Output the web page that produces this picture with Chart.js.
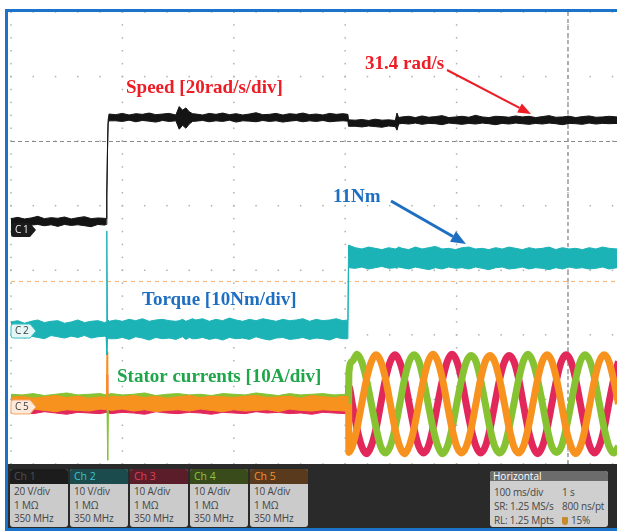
<!DOCTYPE html>
<html>
<head>
<meta charset="utf-8">
<script src="https://cdn.jsdelivr.net/npm/chart.js@4.4.1/dist/chart.umd.min.js"></script>
<style>
html,body{margin:0;padding:0;background:#fff;}
#scope{position:relative;width:617px;height:531px;overflow:hidden;}
#scope canvas{position:absolute;left:0;top:0;}
#panel{position:absolute;left:8px;top:464px;width:609px;height:64px;background:#2a2a2a;font-family:"Open Sans",sans-serif;}
.box{position:absolute;top:5px;width:58px;height:58px;border-radius:3px;overflow:hidden;background:#cbcbcb;}
.hd{height:15px;line-height:15px;padding-left:4px;font-size:10.5px;}
.bd{padding:1px 0 0 4px;font-size:10px;line-height:13.5px;color:#464646;letter-spacing:-0.2px;white-space:nowrap;}
.hbox{position:absolute;left:482px;top:7px;width:118px;height:56px;border-radius:3px;overflow:hidden;background:#cfcfcf;}
.hbox .hh{height:10px;line-height:10px;padding-left:3px;font-size:10px;background:#6c6c6c;color:#fff;}
.hbox .row{position:absolute;font-size:10px;line-height:14px;color:#464646;white-space:nowrap;letter-spacing:-0.2px;}
.badge{display:inline-block;width:6px;height:8px;background:#c98a2e;border-radius:1px 1px 3px 3px;margin-right:3px;vertical-align:-1px;}
</style>
</head>
<body>
<div id="scope">
  <canvas id="scopeChart" width="617" height="531"></canvas>
  <div id="panel">
    <div class="box" style="left:2px"><div class="hd" style="background:#1c1c1c;color:#505050">Ch 1</div><div class="bd">20 V/div<br>1 MΩ<br>350 MHz</div></div>
    <div class="box" style="left:62px"><div class="hd" style="background:#1c4b4d;color:#3fc4c6">Ch 2</div><div class="bd">10 V/div<br>1 MΩ<br>350 MHz</div></div>
    <div class="box" style="left:122px"><div class="hd" style="background:#5a1d29;color:#e0405c">Ch 3</div><div class="bd">10 A/div<br>1 MΩ<br>350 MHz</div></div>
    <div class="box" style="left:182px"><div class="hd" style="background:#3a4b1b;color:#8cc540">Ch 4</div><div class="bd">10 A/div<br>1 MΩ<br>350 MHz</div></div>
    <div class="box" style="left:242px"><div class="hd" style="background:#5a3a1c;color:#f39330">Ch 5</div><div class="bd">10 A/div<br>1 MΩ<br>350 MHz</div></div>
    <div class="hbox">
      <div class="hh">Horizontal</div>
      <div class="row" style="left:4px;top:14px">100 ms/div</div>
      <div class="row" style="left:72px;top:14px">1 s</div>
      <div class="row" style="left:4px;top:28px">SR: 1.25 MS/s</div>
      <div class="row" style="left:72px;top:28px">800 ns/pt</div>
      <div class="row" style="left:4px;top:42px">RL: 1.25 Mpts</div>
      <div class="row" style="left:72px;top:42px"><span class="badge"></span>15%</div>
    </div>
  </div>
</div>
<script>
// Shared time base (ms) for the speed and torque traces
const timeMs = [0,6,12,18,24,30,36,42,48,54,60,66,72,78,84,
  85.4,86,86.6,87.2,88,
  94,100,106,112,118,124,130,136,142,148,
  151,154,157,160,163,
  166,172,178,184,190,196,202,208,214,220,226,232,238,244,250,256,262,268,274,280,286,292,298,
  302.4,303,
  309,315,321,327,333,339,345,
  346.5,348,
  351,357,363,369,375,381,387,393,399,405,411,417,423,429,435,441,447,453,459,465,471,477,483,489,495,501,507,513,519,525,531,537,544];

// Speed trace envelope (rad/s)
const speedUpper = [0.9,1.3,0.8,1.1,1.6,0.9,1.2,1.0,1.4,0.8,1.2,1.5,0.9,1.1,1.0,
  0.9,8.5,22.5,31.5,33.3,
  33.1,33.5,33.0,33.4,33.2,33.6,33.1,33.3,33.5,33.0,
  35.6,34.5,35.2,34.0,33.4,
  33.3,33.0,33.5,33.2,33.6,33.1,33.4,33.0,33.3,33.7,33.1,33.2,33.5,33.0,33.4,33.2,33.6,33.1,33.3,33.0,33.5,33.2,33.4,
  33.2,31.5,
  31.4,31.6,31.3,31.7,31.4,31.5,31.3,
  33.6,32.2,
  32.4,32.6,32.2,32.7,32.3,32.5,32.8,32.2,32.4,32.6,32.3,32.9,32.4,32.2,32.6,32.5,32.3,32.7,32.4,32.6,32.2,32.5,32.8,32.3,32.4,32.6,32.2,32.5,32.7,32.3,32.4,32.6,32.4];
const speedLower = [-1.0,-0.8,-1.4,-1.1,-0.9,-1.3,-1.0,-1.5,-0.9,-1.2,-1.0,-1.3,-1.6,-0.9,-1.1,
  -0.9,7.5,21.5,30.5,31.2,
  31.2,31.0,31.4,30.9,31.3,31.1,30.8,31.3,31.0,31.2,
  28.6,29.8,28.9,30.2,31.0,
  31.1,31.3,30.9,31.2,31.0,31.4,30.8,31.2,31.1,30.9,31.3,31.0,31.2,30.8,31.1,31.3,30.9,31.2,31.0,31.3,30.9,31.1,31.2,
  31.1,29.5,
  29.5,29.3,29.6,29.4,29.2,29.6,29.4,
  28.3,30.2,
  30.4,30.2,30.5,30.1,30.4,30.3,30.0,30.5,30.3,30.1,30.4,30.2,30.5,30.3,30.0,30.4,30.2,30.5,30.3,30.1,30.4,30.2,30.5,30.3,30.0,30.4,30.3,30.1,30.5,30.2,30.4,30.3,30.4];

// Torque trace envelope (Nm)
const torqueUpper = [1.1,1.3,0.9,1.2,1.4,1.0,1.2,1.3,0.9,1.1,1.4,1.0,1.2,1.3,1.0,
  1.1,15.2,1.3,1.4,1.2,
  1.4,1.2,1.5,1.3,1.6,1.2,1.4,1.5,1.3,1.2,
  1.3,1.5,1.2,1.4,1.6,
  1.4,1.6,1.2,1.5,1.3,1.7,1.4,1.2,1.5,1.3,1.6,1.4,1.2,1.5,1.3,1.4,1.6,1.2,1.5,1.3,1.4,1.6,1.3,
  1.4,13.0,
  12.6,12.4,12.7,12.5,12.3,12.6,12.4,
  12.5,12.7,
  12.5,12.3,12.7,12.4,12.6,12.8,12.4,12.5,12.3,12.6,12.7,12.4,12.5,12.3,12.6,12.4,12.7,12.5,12.3,12.6,12.4,12.5,12.7,12.3,12.6,12.4,12.5,12.3,12.6,12.4,12.7,12.5,12.4];
const torqueLower = [-1.2,-1.0,-1.4,-1.1,-1.3,-1.5,-1.0,-1.2,-1.4,-1.1,-1.3,-1.0,-1.4,-1.2,-1.1,
  -1.2,-4.0,-1.3,-1.4,-1.5,
  -1.5,-1.3,-1.6,-1.2,-1.4,-1.7,-1.3,-1.5,-1.4,-1.6,
  -1.4,-1.2,-1.6,-1.3,-1.5,
  -1.5,-1.3,-1.6,-1.4,-1.7,-1.3,-1.5,-1.4,-1.6,-1.2,-1.5,-1.7,-1.4,-1.3,-1.6,-1.5,-1.3,-1.6,-1.4,-1.5,-1.7,-1.3,-1.5,
  -1.5,9.5,
  9.4,9.6,9.3,9.5,9.7,9.4,9.5,
  9.4,9.6,
  9.5,9.3,9.6,9.4,9.2,9.5,9.3,9.6,9.4,9.5,9.3,9.6,9.4,9.2,9.5,9.6,9.3,9.4,9.6,9.3,9.5,9.4,9.2,9.5,9.3,9.6,9.4,9.5,9.3,9.4,9.6,9.3,9.5];

// Phase currents before the load step (ms, A)
const preTimes = [0,10,20,30,40,50,60,70,80,
  85.6,86.2,86.8,87.4,
  90,100,110,120,130,140,150,160,170,180,190,200,210,220,230,240,250,260,270,280,290,300,
  303.2];
const orangePreHi = [1.0,1.2,0.9,1.1,1.3,1.0,1.2,0.9,1.1, 1.0,8.1,1.1,1.0,
  1.2,1.1,1.3,1.0,1.2,0.9,1.1,1.3,1.0,1.2,1.1,1.0,1.2,1.3,1.0,1.1,1.2,0.9,1.3,1.1,1.0,1.2, 1.1];
const orangePreLo = [-0.9,-1.1,-0.8,-1.0,-1.2,-0.9,-1.0,-1.1,-0.8, -0.9,-0.8,-1.0,-0.9,
  -1.0,-0.8,-1.1,-0.9,-1.2,-1.0,-0.9,-1.1,-0.8,-1.0,-1.2,-0.9,-1.1,-1.0,-0.9,-1.2,-0.8,-1.0,-1.1,-0.9,-1.0,-1.1, -1.0];
const greenPreHi = [1.5,1.4,1.6,1.3,1.5,1.7,1.4,1.5,1.6, 1.4,1.5,1.3,1.5,
  1.6,1.4,1.5,1.7,1.3,1.5,1.6,1.4,1.5,1.3,1.6,1.5,1.4,1.7,1.5,1.3,1.6,1.4,1.5,1.6,1.4,1.5, 1.5];
const greenPreLo = [-0.3,-0.2,-0.4,-0.3,-0.2,-0.3,-0.4,-0.2,-0.3, -0.3,-0.3,-8.7,-0.3,
  -0.2,-0.3,-0.4,-0.2,-0.3,-0.3,-0.2,-0.4,-0.3,-0.2,-0.3,-0.4,-0.3,-0.2,-0.3,-0.3,-0.4,-0.2,-0.3,-0.3,-0.2,-0.3, -0.3];
const redPreHi = [0.3,0.2,0.3,0.4,0.2,0.3,0.3,0.2,0.4, 0.3,4.5,0.3,0.2,
  0.3,0.2,0.4,0.3,0.3,0.2,0.3,0.4,0.2,0.3,0.3,0.2,0.4,0.3,0.2,0.3,0.3,0.4,0.2,0.3,0.3,0.2, 0.3];
const redPreLo = [-1.4,-1.3,-1.5,-1.2,-1.4,-1.6,-1.3,-1.4,-1.5, -1.3,-1.4,-1.3,-1.4,
  -1.5,-1.3,-1.4,-1.6,-1.2,-1.4,-1.5,-1.3,-1.4,-1.6,-1.3,-1.4,-1.5,-1.2,-1.4,-1.3,-1.5,-1.4,-1.6,-1.3,-1.4,-1.5, -1.4];

// Phase currents after the load step (ms, A)
const currentTimes = [303.1,303.3,306.3,310.6,314.9,319.1,323.4,327.7,331.9,336.2,340.5,344.7,349.0,353.3,357.5,361.8,366.1,370.3,374.6,378.9,383.1,387.4,391.7,395.9,400.2,404.5,408.7,413.0,417.3,421.5,425.8,430.1,434.3,438.6,442.9,447.1,451.4,455.7,459.9,464.2,468.5,472.7,477.0,481.3,485.5,489.8,494.1,498.3,502.6,506.9,511.1,515.4,519.7,523.9,528.2,532.5,536.7,541.0,545.3];
const phaseGreen = [0,4.8,
  6.6,7.7,6.5,3.8,0.1,-3.7,-6.6,-7.6,-6.5,-3.8,0.0,3.9,
  6.6,7.6,6.6,3.7,-0.1,-3.8,-6.5,-7.7,-6.6,-3.8,0.1,3.8,
  6.5,7.5,6.6,3.8,0.0,-3.9,-6.6,-7.6,-6.6,-3.7,0.0,3.8,
  6.6,7.7,6.5,3.8,0.1,-3.8,-6.6,-7.5,-6.6,-3.8,-0.1,3.8,
  6.6,7.6,6.6,3.9,0.0,-3.8,-6.5,-7.6,-6.6];
const phaseOrange = [0,-7.5,
  -6.6,-3.8,0.1,3.8,6.5,7.6,6.6,3.9,0.0,-3.8,-6.6,-7.7,
  -6.5,-3.8,0.0,3.7,6.6,7.7,6.6,3.8,-0.1,-3.8,-6.6,-7.6,
  -6.6,-3.9,0.0,3.8,6.6,7.5,6.5,3.8,0.1,-3.7,-6.6,-7.6,
  -6.6,-3.8,0.0,3.8,6.6,7.6,6.6,3.8,0.0,-3.9,-6.5,-7.7,
  -6.6,-3.8,0.1,3.8,6.6,7.6,6.6,3.7,0.0];
const phaseRed = [0,2.7,
  0.1,-3.8,-6.6,-7.7,-6.5,-3.8,0.0,3.9,6.6,7.6,6.5,3.8,
  0.0,-3.8,-6.6,-7.6,-6.6,-3.7,0.1,3.8,6.6,7.7,6.6,3.8,
  -0.1,-3.8,-6.5,-7.6,-6.6,-3.8,0.0,3.8,6.5,7.5,6.6,3.9,
  0.0,-3.9,-6.6,-7.7,-6.6,-3.8,0.0,3.8,6.6,7.6,6.6,3.8,
  0.0,-3.8,-6.6,-7.6,-6.5,-3.8,0.1,3.8,6.6];

const COLORS = {speed:'#141414', torque:'#1cb3b6', red:'#e2275a', green:'#86c232', orange:'#f7921f'};

const pts = (xs, ys) => xs.map((x, i) => ({x, y: ys[i]}));

function band(label, xs, hi, lo, color, yAxisID, order) {
  return [
    {label: label + ' max', data: pts(xs, hi), yAxisID, order, borderColor: color, backgroundColor: color,
     borderWidth: 1, pointRadius: 0, tension: 0, fill: '+1'},
    {label: label + ' min', data: pts(xs, lo), yAxisID, order, borderColor: color, backgroundColor: color,
     borderWidth: 1, pointRadius: 0, tension: 0, fill: false}
  ];
}
function wave(label, ys, color, order) {
  return {label, data: pts(currentTimes, ys), yAxisID: 'yCurrent', order, borderColor: color,
    borderWidth: 7, pointRadius: 0, cubicInterpolationMode: 'monotone', fill: false, borderJoinStyle: 'round'};
}

const datasets = [
  ...band('Speed', timeMs, speedUpper, speedLower, COLORS.speed, 'ySpeed', 1),
  ...band('Torque', timeMs, torqueUpper, torqueLower, COLORS.torque, 'yTorque', 2),
  wave('Ch5 current', phaseOrange, COLORS.orange, 3),
  ...band('Ch5 current idle', preTimes, orangePreHi, orangePreLo, COLORS.orange, 'yCurrent', 3),
  wave('Ch4 current', phaseGreen, COLORS.green, 4),
  ...band('Ch4 current idle', preTimes, greenPreHi, greenPreLo, COLORS.green, 'yCurrent', 4),
  wave('Ch3 current', phaseRed, COLORS.red, 5),
  ...band('Ch3 current idle', preTimes, redPreHi, redPreLo, COLORS.red, 'yCurrent', 5)
];

// Dotted graticule: 100 ms per column, 7 vertical divisions, 5 minor dots per division
const graticule = {
  id: 'graticule',
  beforeDraw(chart) {
    const ctx = chart.ctx;
    ctx.save();
    ctx.fillStyle = '#ffffff';
    ctx.fillRect(0, 0, chart.width, chart.height);
    ctx.restore();
  },
  beforeDatasetsDraw(chart) {
    const {ctx, scales: {x, yDiv}} = chart;
    ctx.save();
    ctx.fillStyle = '#b0b0b0';
    for (let c = 0; c <= 5; c++) {
      const px = x.getPixelForValue(c * 100);
      for (let m = 0; m <= 35; m++) {
        const py = yDiv.getPixelForValue(m / 5);
        ctx.fillRect(px - 0.75, py - 0.75, 1.5, 1.5);
      }
    }
    for (let r = 0; r <= 7; r++) {
      const py = yDiv.getPixelForValue(r);
      for (let m = 0; m <= 28; m++) {
        const px = x.getPixelForValue(m * 20);
        ctx.fillRect(px - 0.75, py - 0.75, 1.5, 1.5);
      }
    }
    // cursors and trigger level
    ctx.lineWidth = 1;
    ctx.strokeStyle = '#8a8a8a';
    ctx.setLineDash([4, 3]);
    let py = Math.round(yDiv.getPixelForValue(5)) + 0.5;
    ctx.beginPath(); ctx.moveTo(chart.chartArea.left, py); ctx.lineTo(chart.chartArea.right, py); ctx.stroke();
    ctx.lineWidth = 1.5;
    ctx.strokeStyle = '#9a9a9a';
    const vx = x.getPixelForValue(500);
    ctx.beginPath(); ctx.moveTo(vx, chart.chartArea.top); ctx.lineTo(vx, chart.chartArea.bottom); ctx.stroke();
    ctx.lineWidth = 1.2;
    ctx.strokeStyle = '#f8b878';
    ctx.setLineDash([4, 4]);
    py = Math.round(yDiv.getPixelForValue(2.84)) + 0.5;
    ctx.beginPath(); ctx.moveTo(chart.chartArea.left, py); ctx.lineTo(chart.chartArea.right, py); ctx.stroke();
    ctx.restore();
  }
};

function arrow(ctx, x1, y1, x2, y2, color, w, len, half) {
  const a = Math.atan2(y2 - y1, x2 - x1);
  const bx = x2 - len * Math.cos(a), by = y2 - len * Math.sin(a);
  ctx.strokeStyle = color; ctx.fillStyle = color; ctx.lineWidth = w;
  ctx.beginPath(); ctx.moveTo(x1, y1); ctx.lineTo(bx, by); ctx.stroke();
  ctx.beginPath();
  ctx.moveTo(x2, y2);
  ctx.lineTo(bx + half * Math.sin(a), by - half * Math.cos(a));
  ctx.lineTo(bx - half * Math.sin(a), by + half * Math.cos(a));
  ctx.closePath(); ctx.fill();
}

function tag(ctx, x, yc, fill, stroke, ch, num, color) {
  const h = 14, w = 19, tip = 6, r = 2.5;
  const t = yc - h / 2, b = yc + h / 2;
  ctx.beginPath();
  ctx.moveTo(x + r, t);
  ctx.lineTo(x + w, t);
  ctx.lineTo(x + w + tip, yc);
  ctx.lineTo(x + w, b);
  ctx.lineTo(x + r, b);
  ctx.quadraticCurveTo(x, b, x, b - r);
  ctx.lineTo(x, t + r);
  ctx.quadraticCurveTo(x, t, x + r, t);
  ctx.closePath();
  ctx.fillStyle = fill; ctx.fill();
  if (stroke) { ctx.strokeStyle = stroke; ctx.lineWidth = 1; ctx.stroke(); }
  ctx.fillStyle = color;
  ctx.font = '10px "Open Sans", sans-serif';
  ctx.textBaseline = 'middle';
  ctx.fillText(ch, x + 4, yc + 0.5);
  ctx.fillText(num, x + 12, yc + 0.5);
}

const annotations = {
  id: 'annotations',
  afterDatasetsDraw(chart) {
    const {ctx, scales} = chart;
    ctx.save();
    // channel ground markers
    tag(ctx, 11, scales.ySpeed.getPixelForValue(0) + 8.5, '#1b1b1b', null, 'C', '1', '#f0f0f0');
    tag(ctx, 11, scales.yTorque.getPixelForValue(0) + 2, '#e4f6f6', '#3cc0c2', 'C', '2', '#404040');
    tag(ctx, 11, scales.yCurrent.getPixelForValue(0) + 3, '#fdeadb', '#f6a463', 'C', '5', '#404040');

    ctx.font = 'bold 19px "Liberation Serif", "Times New Roman", serif';
    ctx.textBaseline = 'alphabetic';
    ctx.fillStyle = '#ee1c24';
    ctx.fillText('Speed [20rad/s/div]', 126, 93);
    ctx.fillText('31.4 rad/s', 365, 69);
    ctx.fillStyle = '#1e6fc1';
    ctx.fillText('11Nm', 333, 202);
    ctx.fillText('Torque [10Nm/div]', 142, 305);
    ctx.fillStyle = '#1fa64a';
    ctx.fillText('Stator currents [10A/div]', 117, 382);

    arrow(ctx, 447, 70, 531, 114, '#ee1c24', 2, 13, 5);
    arrow(ctx, 391, 201, 466, 244, '#1e6fc1', 3, 15, 6);
    ctx.restore();
  },
  afterDraw(chart) {
    const ctx = chart.ctx;
    ctx.save();
    ctx.fillStyle = '#1b74c9';
    ctx.fillRect(5, 9, chart.width - 5, 3);
    ctx.fillRect(5, 9, 3, chart.height - 9);
    ctx.fillRect(5, chart.height - 3, chart.width - 5, 3);
    ctx.restore();
  }
};

new Chart(document.getElementById('scopeChart'), {
  type: 'line',
  data: {datasets},
  options: {
    responsive: false,
    animation: false,
    devicePixelRatio: 1,
    layout: {padding: {left: 11, top: 12, right: 0, bottom: 67}},
    plugins: {legend: {display: false}, tooltip: {enabled: false}, filler: {propagate: false}},
    scales: {
      x: {type: 'linear', min: 0, max: 544, display: false},
      ySpeed: {type: 'linear', min: -75.1, max: 64.9, display: false},
      yTorque: {type: 'linear', min: -20.9, max: 49.1, display: false},
      yCurrent: {type: 'linear', min: -9.3, max: 60.7, display: false},
      yDiv: {type: 'linear', min: 0, max: 7, display: false}
    }
  },
  plugins: [graticule, annotations]
});
</script>
</body>
</html>
